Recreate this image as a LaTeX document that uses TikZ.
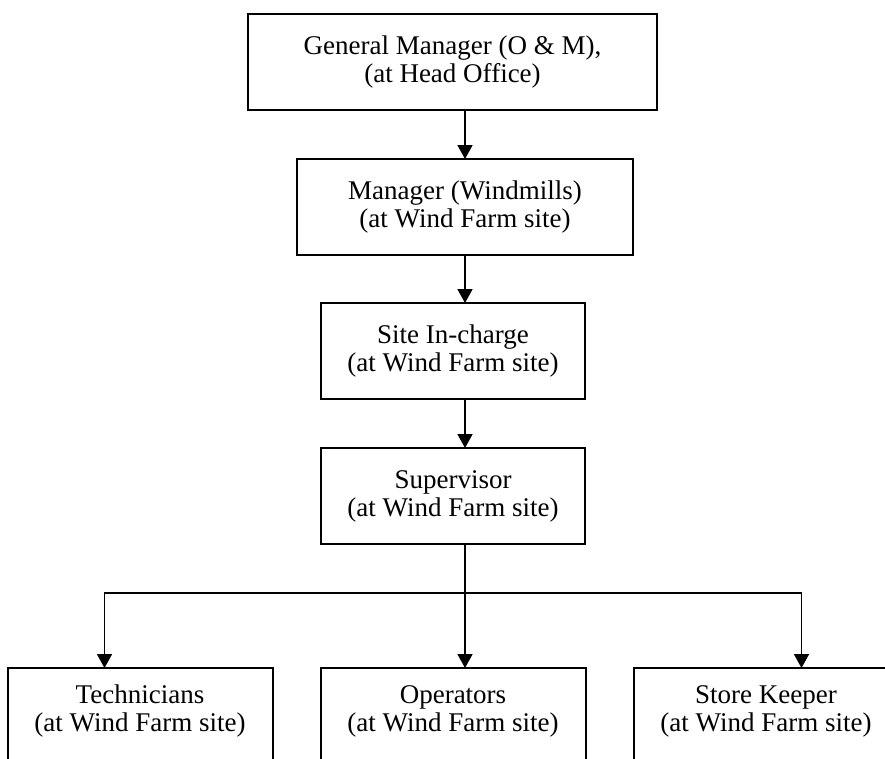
\documentclass[tikz,border=0pt]{standalone}
\usepackage{fontspec}
\setmainfont{Liberation Serif}
\usepackage{tikz}
\usetikzlibrary{arrows.meta, positioning, calc}

\begin{document}
\begin{tikzpicture}[
      x=1pt, y=1pt,
      font=\fontsize{27}{28}\selectfont,
      box/.style={rectangle, draw, line width=2pt, align=center,
                  inner sep=0pt, outer sep=0pt, minimum height=96pt},
      leaf/.style={box, minimum width=265pt, text height=63pt, text depth=40pt},
      line/.style={draw, line width=1.8pt, -{Triangle[length=14pt, width=15pt]}}
  ]
      \path[fill=white, use as bounding box] (0,0) rectangle (885,-758);
      \clip (0,0) rectangle (885,-758);

      \node (gm)    [box, minimum width=409pt] at (452.5,-62)
          {General Manager (O \& M),\\(at Head Office)};
      \node (mgr)   [box, minimum width=336pt, below=49pt of gm, xshift=12.5pt]
          {Manager (Windmills)\\(at Wind Farm site)};
      \node (site)  [box, minimum width=264pt, below=48pt of mgr, xshift=-12pt]
          {Site In-charge\\(at Wind Farm site)};
      \node (sup)   [box, minimum width=264pt, below=49pt of site]
          {Supervisor\\(at Wind Farm site)};
      \node (oper)  [leaf, below=124pt of sup] {Operators\\(at Wind Farm site)};
      \node (tech)  [leaf, left=48pt of oper] {Technicians\\(at Wind Farm site)};
      \node (store) [leaf, right=48pt of oper] {Store Keeper\\(at Wind Farm site)};

      \draw [line] (gm.south -| mgr.north) -- (mgr.north);
      \draw [line] (mgr.south) -- (mgr.south |- site.north);
      \draw [line] (site.south -| mgr.south) -- (sup.north -| mgr.south);

      \coordinate (split) at ([yshift=-49pt]sup.south -| mgr.south);
      \draw [line width=1.6pt] (sup.south -| split) -- (split);
      \draw [line] (split) -- (oper.north -| split);
      \draw [line] (split) -| ([xshift=-35.5pt]tech.north);
      \draw [line] (split) -| ([xshift=35.5pt]store.north);
  \end{tikzpicture}
\end{document}
